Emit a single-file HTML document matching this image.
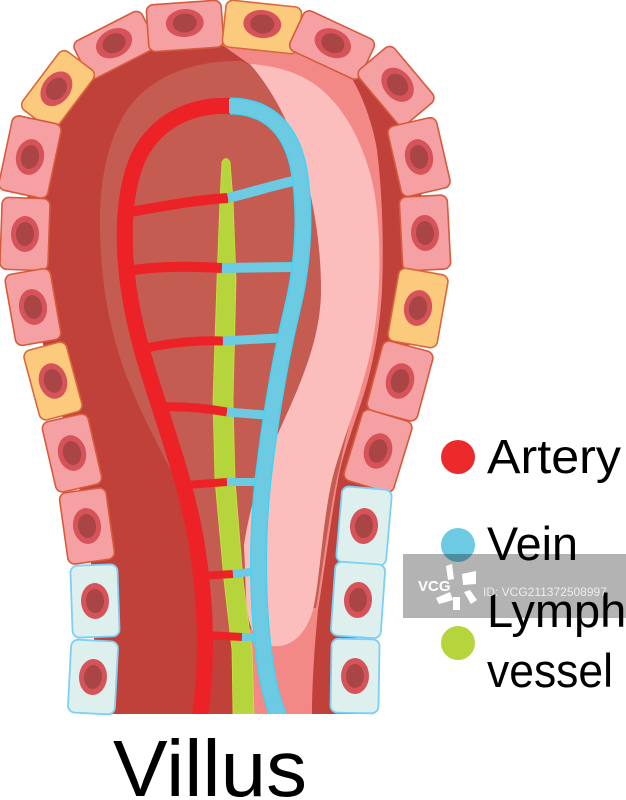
<!DOCTYPE html>
<html><head><meta charset="utf-8"><style>
html,body{margin:0;padding:0;background:#fff;}
svg{display:block;}
.p{fill:#f5a1a3;stroke:#d85a3c;stroke-width:1.6;}
.y{fill:#fcca7c;stroke:#d9683c;stroke-width:1.6;}
.b{fill:#def0ee;stroke:#7cd0f5;stroke-width:1.8;}
.n1{fill:#d6535a;}
.n2{fill:#a94545;}
.t{font-family:"Liberation Sans",sans-serif;fill:#000;}
</style></head><body>
<svg width="626" height="800" viewBox="0 0 626 800" xmlns="http://www.w3.org/2000/svg">
<defs><clipPath id="c"><rect x="0" y="0" width="626" height="714"/></clipPath></defs>
<g clip-path="url(#c)">
<path fill="#c0403a" d="M93,714 L93,676 L95,601 L87,526 L72,453 L53,381 L33,307 L25,234 L30,157 L58,90 L115,45 L185,27 L262,27 L330,47 L395,85 L418,157 L425,233 L418,308 L400,381 L378,451 L364,526 L358,600 L355,676 L355,714 Z"/>
<path fill="#f28987" d="M215,40 L300,40 C320,45 338,58 345,68 C360,88 372,120 377,150 C382,190 384,240 382,290 C380,330 372,370 362,400 C352,430 345,450 340,470 C332,510 326,560 318,610 C314,650 312,690 312,714 L252,714 L248,640 L290,300 L252,66 Z"/>
<path fill="#c45c51" d="M242,61 C200,60 160,72 135,100 C110,128 100,175 100,220 C100,290 112,340 130,385 C148,430 172,470 192,512 L204,560 L208,615 C209,630 214,637 226,637 L246,637 L262,610 L316,608 C324,560 330,505 340,465 C344,445 348,430 351,418 L338,380 L335,300 L330,230 L310,140 L280,80 Z"/>
<path fill="#fbbebc" d="M250,64 C280,66 305,75 322,90 C348,112 366,150 374,190 C382,235 381,300 372,345 C362,395 342,440 332,480 C322,525 320,580 313,610 C305,638 288,648 272,646 C254,643 247,625 246,595 L244,545 C250,505 262,470 272,447 C295,395 321,345 321,290 C321,225 306,165 288,125 C276,98 262,78 250,64 Z"/>
<path fill="#b6d43b" stroke="#cbe33f" stroke-width="0.8" d="M222,162 Q226,155 230,162 L233,200 L236,280 L233,400 L235,480 L243,580 L252,650 L254,714 L233,714 L232,650 L224,580 L215,480 L213,400 L217,280 L220,200 Z"/>
<g fill="none" stroke-linecap="butt">
<path stroke="#ec2227" stroke-width="10" d="M130,212 C165,206 195,200 228,198"/>
<path stroke="#6ccae2" stroke-width="10" d="M228,198 C250,193 270,186 298,180"/>
<path stroke="#ec2227" stroke-width="10" d="M134,270 C160,266 190,266 222,268"/>
<path stroke="#6ccae2" stroke-width="10" d="M222,268 L292,267"/>
<path stroke="#ec2227" stroke-width="9" d="M146,348 C175,342 200,340 223,341"/>
<path stroke="#6ccae2" stroke-width="9" d="M223,341 L278,338"/>
<path stroke="#ec2227" stroke-width="9" d="M162,407 C185,406 205,408 227,412"/>
<path stroke="#6ccae2" stroke-width="9" d="M227,412 C240,413 250,414 266,415"/>
<path stroke="#ec2227" stroke-width="8" d="M186,485 L227,482"/>
<path stroke="#6ccae2" stroke-width="8" d="M227,482 L260,482"/>
<path stroke="#ec2227" stroke-width="8" d="M200,576 L233,574"/>
<path stroke="#6ccae2" stroke-width="8" d="M233,574 L259,571"/>
<path stroke="#ec2227" stroke-width="8" d="M204,635 L242,637"/>
<path stroke="#6ccae2" stroke-width="8" d="M242,637 L264,637"/>
</g>
<path fill="none" stroke="#ec2227" stroke-width="16" d="M231,106 C190,104 155,122 138,158 C120,200 122,262 134,318 C148,385 182,460 196,540 C206,600 208,660 200,716"/>
<path fill="none" stroke="#3fd5f5" stroke-width="17" d="M230,106 C262,106 288,122 298,165 C307,210 303,265 292,310 C280,360 270,420 263,480 C256,545 257,620 268,680 C272,700 276,710 279,716"/>
<path fill="none" stroke="#6ccae2" stroke-width="14" d="M229,106 C262,106 288,122 298,165 C307,210 303,265 292,310 C280,360 270,420 263,480 C256,545 257,620 268,680 C272,700 276,710 279,716"/>
</g>

<g transform="translate(115,45) rotate(-27)"><rect class="p" x="-38" y="-21" width="76" height="42" rx="7"/><ellipse class="n1" cy="-2" rx="19" ry="14"/><ellipse class="n2" cy="-2" rx="12" ry="9.5"/></g>
<g transform="translate(58,90) rotate(-53)"><rect class="y" x="-36.5" y="-21.5" width="73" height="43" rx="7"/><ellipse class="n1" cy="-2" rx="19" ry="14"/><ellipse class="n2" cy="-2" rx="12" ry="9.5"/></g>
<g transform="translate(30,157) rotate(12)"><rect class="p" x="-25" y="-38" width="50" height="76" rx="7"/><ellipse class="n1" rx="14" ry="18"/><ellipse class="n2" rx="9" ry="12"/></g>
<g transform="translate(25,234) rotate(2)"><rect class="p" x="-24" y="-36" width="48" height="72" rx="7"/><ellipse class="n1" rx="14" ry="18"/><ellipse class="n2" rx="9" ry="12"/></g>
<g transform="translate(33,307) rotate(-10)"><rect class="p" x="-23" y="-36" width="46" height="72" rx="7"/><ellipse class="n1" rx="14" ry="18"/><ellipse class="n2" rx="9" ry="12"/></g>
<g transform="translate(53,381) rotate(-15)"><rect class="y" x="-22" y="-36" width="44" height="72" rx="7"/><ellipse class="n1" rx="14" ry="18"/><ellipse class="n2" rx="9" ry="12"/></g>
<g transform="translate(72,453) rotate(-13)"><rect class="p" x="-23.5" y="-36" width="47" height="72" rx="7"/><ellipse class="n1" rx="14" ry="18"/><ellipse class="n2" rx="9" ry="12"/></g>
<g transform="translate(87,526) rotate(-8)"><rect class="p" x="-23.5" y="-36" width="47" height="72" rx="7"/><ellipse class="n1" rx="14" ry="18"/><ellipse class="n2" rx="9" ry="12"/></g>
<g transform="translate(95,601) rotate(-2)"><rect class="b" x="-23.5" y="-36" width="47" height="72" rx="7"/><ellipse class="n1" rx="14" ry="18"/><ellipse class="n2" rx="9" ry="12"/></g>
<g transform="translate(93,677) rotate(3)"><rect class="b" x="-23.5" y="-36.5" width="47" height="73" rx="7"/><ellipse class="n1" rx="14" ry="18"/><ellipse class="n2" rx="9" ry="12"/></g>
<g transform="translate(185,26) rotate(-4)"><rect class="p" x="-37.5" y="-23.5" width="75" height="47" rx="7"/><ellipse class="n1" cy="-3" rx="19" ry="14"/><ellipse class="n2" cy="-3" rx="12" ry="9.5"/></g>
<g transform="translate(262,27) rotate(6)"><rect class="y" x="-38" y="-23.5" width="76" height="47" rx="7"/><ellipse class="n1" cy="-3" rx="19" ry="14"/><ellipse class="n2" cy="-3" rx="12" ry="9.5"/></g>
<g transform="translate(332,45) rotate(25)"><rect class="p" x="-39" y="-22" width="78" height="44" rx="7"/><ellipse class="n1" cy="-2" rx="19" ry="14"/><ellipse class="n2" cy="-2" rx="12" ry="9.5"/></g>
<g transform="translate(396,86) rotate(50)"><rect class="p" x="-36" y="-23" width="72" height="46" rx="7"/><ellipse class="n1" cy="-2" rx="19" ry="14"/><ellipse class="n2" cy="-2" rx="12" ry="9.5"/></g>
<g transform="translate(419,157) rotate(-13)"><rect class="p" x="-25" y="-36" width="50" height="72" rx="7"/><ellipse class="n1" rx="14" ry="18"/><ellipse class="n2" rx="9" ry="12"/></g>
<g transform="translate(425,233) rotate(-3)"><rect class="p" x="-24" y="-37" width="48" height="74" rx="7"/><ellipse class="n1" rx="14" ry="18"/><ellipse class="n2" rx="9" ry="12"/></g>
<g transform="translate(418,308) rotate(10)"><rect class="y" x="-25" y="-37" width="50" height="74" rx="7"/><ellipse class="n1" rx="14" ry="18"/><ellipse class="n2" rx="9" ry="12"/></g>
<g transform="translate(400,381) rotate(15)"><rect class="p" x="-26" y="-36" width="52" height="72" rx="7"/><ellipse class="n1" rx="14" ry="18"/><ellipse class="n2" rx="9" ry="12"/></g>
<g transform="translate(378,451) rotate(17)"><rect class="p" x="-26" y="-37" width="52" height="74" rx="7"/><ellipse class="n1" rx="14" ry="18"/><ellipse class="n2" rx="9" ry="12"/></g>
<g transform="translate(364,526) rotate(5)"><rect class="b" x="-25" y="-38" width="50" height="76" rx="7"/><ellipse class="n1" rx="14" ry="18"/><ellipse class="n2" rx="9" ry="12"/></g>
<g transform="translate(358,600) rotate(4)"><rect class="b" x="-25" y="-37" width="50" height="74" rx="7"/><ellipse class="n1" rx="14" ry="18"/><ellipse class="n2" rx="9" ry="12"/></g>
<g transform="translate(355,676) rotate(1)"><rect class="b" x="-24" y="-37" width="48" height="74" rx="7"/><ellipse class="n1" rx="14" ry="18"/><ellipse class="n2" rx="9" ry="12"/></g>

<circle cx="458" cy="457" r="17" fill="#ec2a2b"/>
<circle cx="458" cy="545" r="17" fill="#6ccae2"/>
<circle cx="458" cy="643" r="17" fill="#b6d43b"/>
<text class="t" x="487" y="473" font-size="48" textLength="134" lengthAdjust="spacingAndGlyphs">Artery</text>
<text class="t" x="487" y="560" font-size="47" textLength="91" lengthAdjust="spacingAndGlyphs">Vein</text>
<text class="t" x="487" y="627" font-size="47">Lymph</text>
<text class="t" x="487" y="687" font-size="47" textLength="126" lengthAdjust="spacingAndGlyphs">vessel</text>

<text class="t" x="113" y="796" font-size="80" textLength="194" lengthAdjust="spacingAndGlyphs">Villus</text>

<rect x="403" y="554" width="223" height="64" fill="#b3b3b3" style="mix-blend-mode:multiply"/>
<text x="418" y="591" font-family="Liberation Sans,sans-serif" font-weight="bold" font-size="15" fill="#ffffff">VCG</text>
<g fill="#ffffff">
<polygon points="446,566 452,564 454,579 448,580"/>
<polygon points="462,574 476,571 476,584 463,585"/>
<polygon points="436,598 450,592 453,600 439,604"/>
<polygon points="453,597 460,597 460,610 453,610"/>
<polygon points="464,592 470,590 477,600 471,604"/>
</g>
<text x="483" y="596" font-family="Liberation Sans,sans-serif" font-size="12" fill="#ececec">ID: VCG211372508997</text>
</svg>
</body></html>
